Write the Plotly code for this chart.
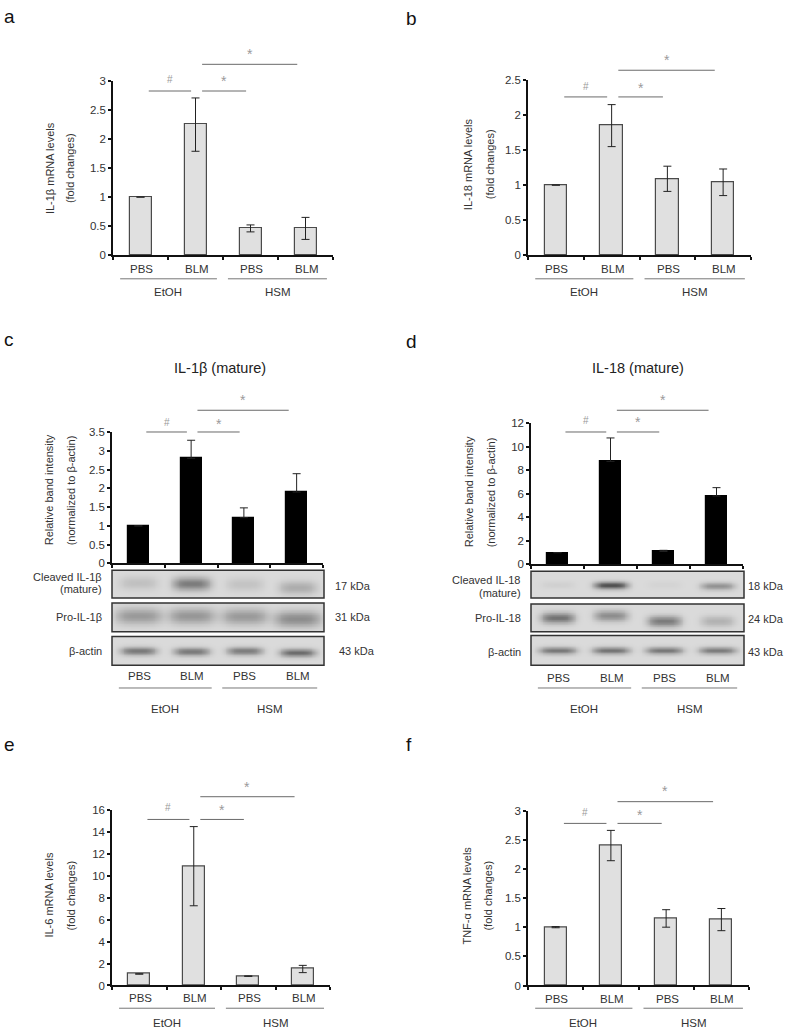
import numpy as np
import plotly.graph_objects as go

W, H = 787, 1034

# ---------------- data ----------------
categories = ["PBS", "BLM", "PBS", "BLM"]
groups = ["EtOH", "HSM"]

il1b_mrna = [1.0, 2.25, 0.46, 0.46]
il1b_mrna_err = [0.0, 0.46, 0.06, 0.19]
il18_mrna = [1.0, 1.85, 1.09, 1.04]
il18_mrna_err = [0.0, 0.30, 0.18, 0.19]
il1b_band = [1.0, 2.80, 1.22, 1.90]
il1b_band_err = [0.0, 0.48, 0.26, 0.49]
il18_band = [1.0, 8.75, 1.10, 5.81]
il18_band_err = [0.0, 1.99, 0.10, 0.71]
il6_mrna = [1.05, 10.85, 0.85, 1.50]
il6_mrna_err = [0.02, 3.60, 0.02, 0.33]
tnf_mrna = [1.0, 2.40, 1.15, 1.13]
tnf_mrna_err = [0.01, 0.26, 0.15, 0.19]

y_ticks_a = [0, 0.5, 1, 1.5, 2, 2.5, 3]
y_ticks_b = [0, 0.5, 1, 1.5, 2, 2.5]
y_ticks_c = [0, 0.5, 1, 1.5, 2, 2.5, 3, 3.5]
y_ticks_d = [0, 2, 4, 6, 8, 10, 12]
y_ticks_e = [0, 2, 4, 6, 8, 10, 12, 14, 16]
y_ticks_f = [0, 0.5, 1, 1.5, 2, 2.5, 3]

# western blot band intensities per lane (0 = none, 1 = black)
c_cleaved = [0.16, 0.58, 0.14, 0.28]
c_pro = [0.40, 0.42, 0.40, 0.48]
c_actin = [0.60, 0.60, 0.58, 0.66]
d_cleaved = [0.06, 0.82, 0.04, 0.45]
d_pro = [0.62, 0.48, 0.58, 0.25]
d_actin = [0.60, 0.62, 0.60, 0.58]

# ---------------- layout helpers ----------------
def px(x):
    return x / W


def py(y):
    return 1 - y / H


panels = {
    "a": dict(l=113, r=333, t=76, b=252, ticks=y_ticks_a, vals=il1b_mrna, err=il1b_mrna_err, sym=True,
              color="#e0e0e0", line="#4a4a4a", ytitle=["IL-1β mRNA levels", "(fold changes)"], tx=[50, 70], ty=164,
              lab_y=266, grp_line=276, grp_y=289, sig=(86, 74, 59, 47)),
    "b": dict(l=528, r=751, t=75, b=252, ticks=y_ticks_b, vals=il18_mrna, err=il18_mrna_err, sym=True,
              color="#e0e0e0", line="#4a4a4a", ytitle=["IL-18 mRNA levels", "(fold changes)"], tx=[468, 490], ty=160,
              lab_y=266, grp_line=276, grp_y=289, sig=(92, 81, 65, 53)),
    "c": dict(l=112, r=323, t=431, b=564, ticks=y_ticks_c, vals=il1b_band, err=il1b_band_err, sym=False,
              color="#000000", line="#000000",
              ytitle=["Relative band intensity", "(normalized to β-actin)"], tx=[49, 71], ty=490,
              lab_y=678, grp_line=690, grp_y=None, sig=(431, 421, 409, 397)),
    "d": dict(l=531, r=743, t=422, b=565, ticks=y_ticks_d, vals=il18_band, err=il18_band_err, sym=False,
              color="#000000", line="#000000",
              ytitle=["Relative band intensity", "(normalized to β-actin)"], tx=[469, 491], ty=492,
              lab_y=680, grp_line=690, grp_y=None, sig=(431, 419, 409, 397)),
    "e": dict(l=112, r=330, t=813, b=991, ticks=y_ticks_e, vals=il6_mrna, err=il6_mrna_err, sym=True,
              color="#e0e0e0", line="#4a4a4a", ytitle=["IL-6 mRNA levels", "(fold changes)"], tx=[49, 71], ty=900,
              lab_y=1004, grp_line=1014, grp_y=1029, sig=(823, 811, 800, 788)),
    "f": dict(l=528, r=749, t=814, b=991, ticks=y_ticks_f, vals=tnf_mrna, err=tnf_mrna_err, sym=True,
              color="#e0e0e0", line="#4a4a4a", ytitle=["TNF-α mRNA levels", "(fold changes)"], tx=[467, 488], ty=900,
              lab_y=1005, grp_line=1014, grp_y=1029, sig=(827, 816, 805, 792)),
}

FONT = "Liberation Sans, Arial, sans-serif"
fig = go.Figure()
annotations = []
shapes = []


def cx(p, c):
    return p["l"] + (c + 0.5) * (p["r"] - p["l"]) / 4.0


def ann(x, y, text, size=11, color="#333333", xanchor="center", angle=0):
    annotations.append(dict(x=px(x), y=py(y), xref="paper", yref="paper", text=text,
                            showarrow=False, xanchor=xanchor, yanchor="middle", textangle=angle,
                            font=dict(family=FONT, size=size, color=color)))


def hline(x0, x1, y, color="#777777", width=1):
    shapes.append(dict(type="line", xref="paper", yref="paper", x0=px(x0), x1=px(x1), y0=py(y), y1=py(y),
                       line=dict(color=color, width=width)))


for i, (key, p) in enumerate(panels.items()):
    n = i + 1
    xa = "x" if n == 1 else "x%d" % n
    ya = "y" if n == 1 else "y%d" % n
    ymax = p["ticks"][-1]
    err = dict(type="data", array=p["err"], color="#222222", thickness=1, width=4, visible=True)
    if not p["sym"]:
        err["symmetric"] = False
        err["arrayminus"] = [0, 0, 0, 0]
    fig.add_trace(go.Bar(x=[0, 1, 2, 3], y=p["vals"], width=0.4, xaxis=xa, yaxis=ya,
                         marker=dict(color=p["color"], line=dict(color=p["line"], width=1.2)),
                         error_y=err, showlegend=False, hoverinfo="skip"))
    fig.layout["xaxis%d" % n] = dict(domain=[px(p["l"]), px(p["r"])], anchor=ya, range=[-0.5, 3.5],
                                     tickvals=[-0.5, 0.5, 1.5, 2.5, 3.5], showticklabels=False, ticks="outside",
                                     ticklen=3, tickcolor="#111", tickwidth=1.5, showline=True, linecolor="#111",
                                     linewidth=1.5, showgrid=False, zeroline=False, fixedrange=True)
    fig.layout["yaxis%d" % n] = dict(domain=[py(p["b"]), py(p["t"])], anchor=xa, range=[0, ymax],
                                     tickvals=p["ticks"], ticktext=[("%g" % v) for v in p["ticks"]],
                                     ticks="outside", ticklen=3, tickcolor="#111", tickwidth=1.5,
                                     showline=True, linecolor="#111", linewidth=1.5, showgrid=False,
                                     zeroline=False, fixedrange=True,
                                     tickfont=dict(family=FONT, size=11.5, color="#333333"))
    # y title (two lines)
    ann(p["tx"][0], p["ty"], p["ytitle"][0], size=11, angle=-90)
    ann(p["tx"][1], p["ty"], p["ytitle"][1], size=11, angle=-90)
    # category labels
    for c, lab in enumerate(categories):
        ann(cx(p, c) + 1, p["lab_y"], lab, size=11.5)
    # group lines and labels
    gl, gr = -0.37, 1.39
    hline(p["l"] + (gl + 0.5) * (p["r"] - p["l"]) / 4, p["l"] + (gr + 0.5) * (p["r"] - p["l"]) / 4, p["grp_line"])
    hline(p["l"] + (1.59 + 0.5) * (p["r"] - p["l"]) / 4, p["l"] + (3.39 + 0.5) * (p["r"] - p["l"]) / 4, p["grp_line"])
    gy = p["grp_y"] if p["grp_y"] is not None else 711
    ann(cx(p, 0.5), gy, groups[0], size=11.5)
    ann(cx(p, 2.5), gy, groups[1], size=11.5)
    # significance
    low, low_t, up, up_t = p["sig"]
    hline(cx(p, 0.15), cx(p, 0.92), low, color="#6a6a6a")
    hline(cx(p, 1.12), cx(p, 1.92), low, color="#6a6a6a")
    hline(cx(p, 1.12), cx(p, 2.85), up, color="#6a6a6a")
    ann((cx(p, 0.15) + cx(p, 0.92)) / 2, low_t, "#", size=10, color="#9a9a9a")
    ann((cx(p, 1.12) + cx(p, 1.92)) / 2, low_t + 2, "*", size=14, color="#9a9a9a")
    ann((cx(p, 1.12) + cx(p, 2.85)) / 2, up_t + 2, "*", size=14, color="#9a9a9a")

# ---------------- western blots ----------------
blot_rows = {
    "c": [
        dict(top=571, bot=599, vals=c_cleaved, y0=[0.45, 0.48, 0.5, 0.62], sy=0.24, sx=0.36,
             labels=["Cleaved IL-1β", "(mature)"], ly=[578, 590], kda="17 kDa", ky=587, kx=333),
        dict(top=604, bot=633, vals=c_pro, y0=[0.45, 0.45, 0.47, 0.55], sy=0.28, sx=0.44,
             labels=["Pro-IL-1β"], ly=[618], kda="31 kDa", ky=618, kx=333),
        dict(top=638, bot=667, vals=c_actin, y0=[0.5, 0.52, 0.5, 0.56], sy=0.14, sx=0.34,
             labels=["β-actin"], ly=[653], kda="43 kDa", ky=653, kx=337),
    ],
    "d": [
        dict(top=572, bot=599, vals=d_cleaved, y0=[0.5, 0.52, 0.5, 0.55], sy=0.14, sx=0.32,
             labels=["Cleaved IL-18", "(mature)"], ly=[581, 594], kda="18 kDa", ky=587, kx=746),
        dict(top=605, bot=633, vals=d_pro, y0=[0.5, 0.42, 0.62, 0.62], sy=0.2, sx=0.32,
             labels=["Pro-IL-18"], ly=[619], kda="24 kDa", ky=620, kx=746),
        dict(top=637, bot=667, vals=d_actin, y0=[0.5, 0.5, 0.5, 0.5], sy=0.12, sx=0.35,
             labels=["β-actin"], ly=[654], kda="43 kDa", ky=654, kx=746),
    ],
}

n = len(panels)
gx = np.linspace(-0.5, 3.5, 240)
gyv = np.linspace(0, 1, 40)
XX, YY = np.meshgrid(gx, gyv)
for key, rows in blot_rows.items():
    p = panels[key]
    for row in rows:
        n += 1
        z = np.zeros_like(XX)
        for lane, v in enumerate(row["vals"]):
            z += v * np.exp(-((XX - lane) / row["sx"]) ** 4) * np.exp(-((YY - row["y0"][lane]) / row["sy"]) ** 2)
        z = np.clip(z, 0, 1)
        xa = "x%d" % n
        ya = "y%d" % n
        fig.add_trace(go.Heatmap(x=gx, y=gyv, z=z, zmin=0, zmax=1, zsmooth="best", showscale=False,
                                 colorscale=[[0, "#dadada"], [0.5, "#8a8a8a"], [1, "#2a2a2a"]],
                                 xaxis=xa, yaxis=ya, hoverinfo="skip"))
        fig.layout["xaxis%d" % n] = dict(domain=[px(p["l"]), px(p["r"] + 1)], anchor=ya, range=[-0.5, 3.5],
                                         visible=False, fixedrange=True)
        fig.layout["yaxis%d" % n] = dict(domain=[py(row["bot"]), py(row["top"])], anchor=xa, range=[1, 0],
                                         visible=False, fixedrange=True)
        shapes.append(dict(type="rect", xref="paper", yref="paper", x0=px(p["l"]), x1=px(p["r"] + 1),
                           y0=py(row["bot"]), y1=py(row["top"]), line=dict(color="#333333", width=1.5)))
        for lab, yy in zip(row["labels"], row["ly"]):
            ann(p["l"] - 8, yy, lab, size=11, xanchor="right")
        ann(row["kx"], row["ky"], row["kda"], size=11, xanchor="left")

# titles c, d
ann(220, 366, "IL-1β (mature)", size=14.5, color="#222222")
ann(638, 366, "IL-18 (mature)", size=14.5, color="#222222")

# panel letters
for letter, (lx, ly) in {"a": (2, 11), "b": (404, 13), "c": (2, 337), "d": (404, 339),
                         "e": (2, 747), "f": (404, 747)}.items():
    ann(lx, ly, letter, size=19, color="#111111", xanchor="left")

fig.update_layout(width=W, height=H, margin=dict(l=0, r=0, t=0, b=0), paper_bgcolor="white",
                  plot_bgcolor="rgba(0,0,0,0)", annotations=annotations, shapes=shapes, showlegend=False,
                  bargap=0)
fig.write_html("out.html", config={"displayModeBar": False},
               post_script="document.body.style.margin='0';document.body.style.overflow='hidden';")
